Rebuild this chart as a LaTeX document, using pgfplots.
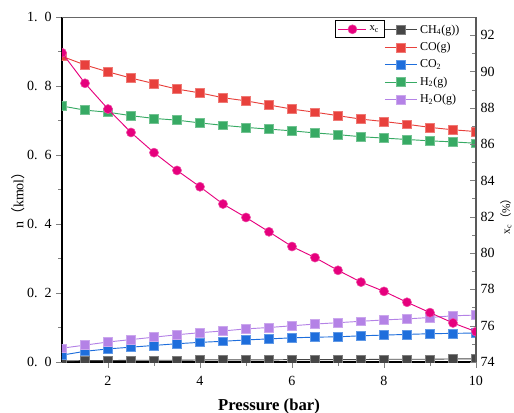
\documentclass[border=0pt]{standalone}
\usepackage{fontspec}
\setmainfont{Liberation Serif}
\newfontfamily\cjk{Noto Sans CJK SC}
\usepackage{pgfplots}
\usepackage{pgfplotstable}
\pgfplotsset{compat=1.18}

\definecolor{cCH}{RGB}{70,70,70}
\definecolor{cCO}{RGB}{232,65,60}
\definecolor{cCOt}{RGB}{30,110,220}
\definecolor{cH}{RGB}{55,170,100}
\definecolor{cHO}{RGB}{180,130,230}
\definecolor{cX}{RGB}{230,0,125}

% pressure, moles of each gas (kmol), conversion x_c (%)
\pgfplotstableread{
p    CH4   CO    CO2   H2    H2O   xc
1.0  0.003 0.886 0.020 0.742 0.040 91.03
1.5  0.004 0.861 0.031 0.730 0.049 89.35
2.0  0.004 0.841 0.038 0.724 0.058 87.93
2.5  0.005 0.823 0.043 0.714 0.065 86.64
3.0  0.005 0.807 0.048 0.706 0.072 85.53
3.5  0.005 0.791 0.053 0.701 0.079 84.55
4.0  0.006 0.780 0.057 0.693 0.085 83.65
4.5  0.006 0.766 0.060 0.686 0.090 82.70
5.0  0.006 0.757 0.064 0.680 0.096 81.96
5.5  0.006 0.745 0.067 0.675 0.100 81.17
6.0  0.007 0.733 0.070 0.670 0.105 80.36
6.5  0.007 0.724 0.072 0.664 0.110 79.75
7.0  0.007 0.714 0.073 0.659 0.114 79.05
7.5  0.007 0.704 0.076 0.653 0.118 78.40
8.0  0.008 0.697 0.078 0.649 0.122 77.89
8.5  0.008 0.689 0.080 0.645 0.125 77.29
9.0  0.008 0.680 0.082 0.641 0.129 76.72
9.5  0.009 0.673 0.083 0.638 0.134 76.15
10.0 0.009 0.668 0.084 0.634 0.136 75.67
}\data

\pgfplotsset{
  common/.style={
    at={(46.5pt,37.5pt)}, anchor=south west,
    scale only axis, width=310.5pt, height=258.75pt,
    xmin=1, xmax=10,
    clip marker paths=true,
    tick label style={font=\fontsize{10.5}{12}\selectfont},
    /pgf/number format/assume math mode=true,
  },
  ser/.style={color=#1, line width=0.7pt, mark=square*, mark size=3.3pt,
    mark options={fill=#1, draw=#1!70!white, line width=0.4pt}},
}

\begin{document}
\begin{tikzpicture}
\begin{axis}[common,
    axis x line*=bottom, axis y line*=left,
    axis line style={line width=1.1pt},
    tick align=outside,
    ymin=0, ymax=1,
    xtick={2,4,...,10}, minor x tick num=1,
    xticklabel style={yshift=-3pt},
    ytick={0,0.2,...,1.0}, minor y tick num=1,
    yticklabels={0.\enspace0,0.\enspace2,0.\enspace4,0.\enspace6,0.\enspace8,1.\enspace0},
    every axis x label/.style={at={(axis description cs:0.5,0)}, anchor=center, yshift=-33pt,
      font=\fontsize{12.5}{14}\selectfont\bfseries},
    xlabel={Pressure (bar)},
    every axis y label/.style={at={(axis description cs:-0.106,0.478)}, anchor=center, rotate=90,
      font=\fontsize{10.5}{12}\selectfont},
    ylabel={n{\cjk（}kmol{\cjk）}},
    legend cell align=left,
    legend style={at={(axis description cs:0.775,0.99)}, anchor=north west,
      draw=none, fill=none, font=\fontsize{9}{10}\selectfont, row sep=1.4pt,
      inner sep=1pt},
    legend image code/.code={\draw[mark repeat=2,mark phase=2] plot coordinates {(0pt,0pt) (12pt,0pt) (24pt,0pt)};},
  ]
  \draw[gray!80!black, line width=0.8pt] (rel axis cs:0,1) -- (rel axis cs:1,1);
  \addplot[ser=cCH] table[x=p, y=CH4] {\data};
  \addlegendentry{CH\textsubscript{4}(g))}
  \addplot[ser=cCO] table[x=p, y=CO] {\data};
  \addlegendentry{CO(g)}
  \addplot[ser=cCOt] table[x=p, y=CO2] {\data};
  \addlegendentry{CO\textsubscript{2}}
  \addplot[ser=cH] table[x=p, y=H2] {\data};
  \addlegendentry{H\textsubscript{2}(g)}
  \addplot[ser=cHO] table[x=p, y=H2O] {\data};
  \addlegendentry{H\textsubscript{2}O(g)}
\end{axis}
\begin{axis}[common,
    axis x line=none, axis y line*=right,
    axis line style={line width=1.1pt, gray!70!black},
    tick align=inside,
    ymin=74, ymax=93,
    ytick={74,76,...,92}, minor y tick num=1,
    every axis y label/.style={at={(axis description cs:1.058,0.43)}, anchor=north, rotate=90,
      inner sep=0pt, font=\fontsize{8.5}{10}\selectfont},
    ylabel={x\textsubscript{c}{\cjk（}\%{\cjk）}},
    legend style={at={(axis description cs:0.66,0.99)}, anchor=north west,
      draw=black, line width=0.5pt, fill=white, font=\fontsize{8}{9}\selectfont, inner sep=1.8pt},
    legend image code/.code={\draw[mark repeat=2,mark phase=2] plot coordinates {(0pt,0pt) (10.5pt,0pt) (21pt,0pt)};},
  ]
  \addplot[color=cX, line width=0.7pt, mark=*, mark size=3.4pt,
    mark options={fill=cX, draw=cX!70!white, line width=0.4pt}] table[x=p, y=xc] {\data};
  \addlegendentry{x\textsubscript{c}}
\end{axis}
\pgfresetboundingbox
\path[use as bounding box] (0,0) rectangle (385.5pt,309pt);
\end{tikzpicture}
\end{document}
